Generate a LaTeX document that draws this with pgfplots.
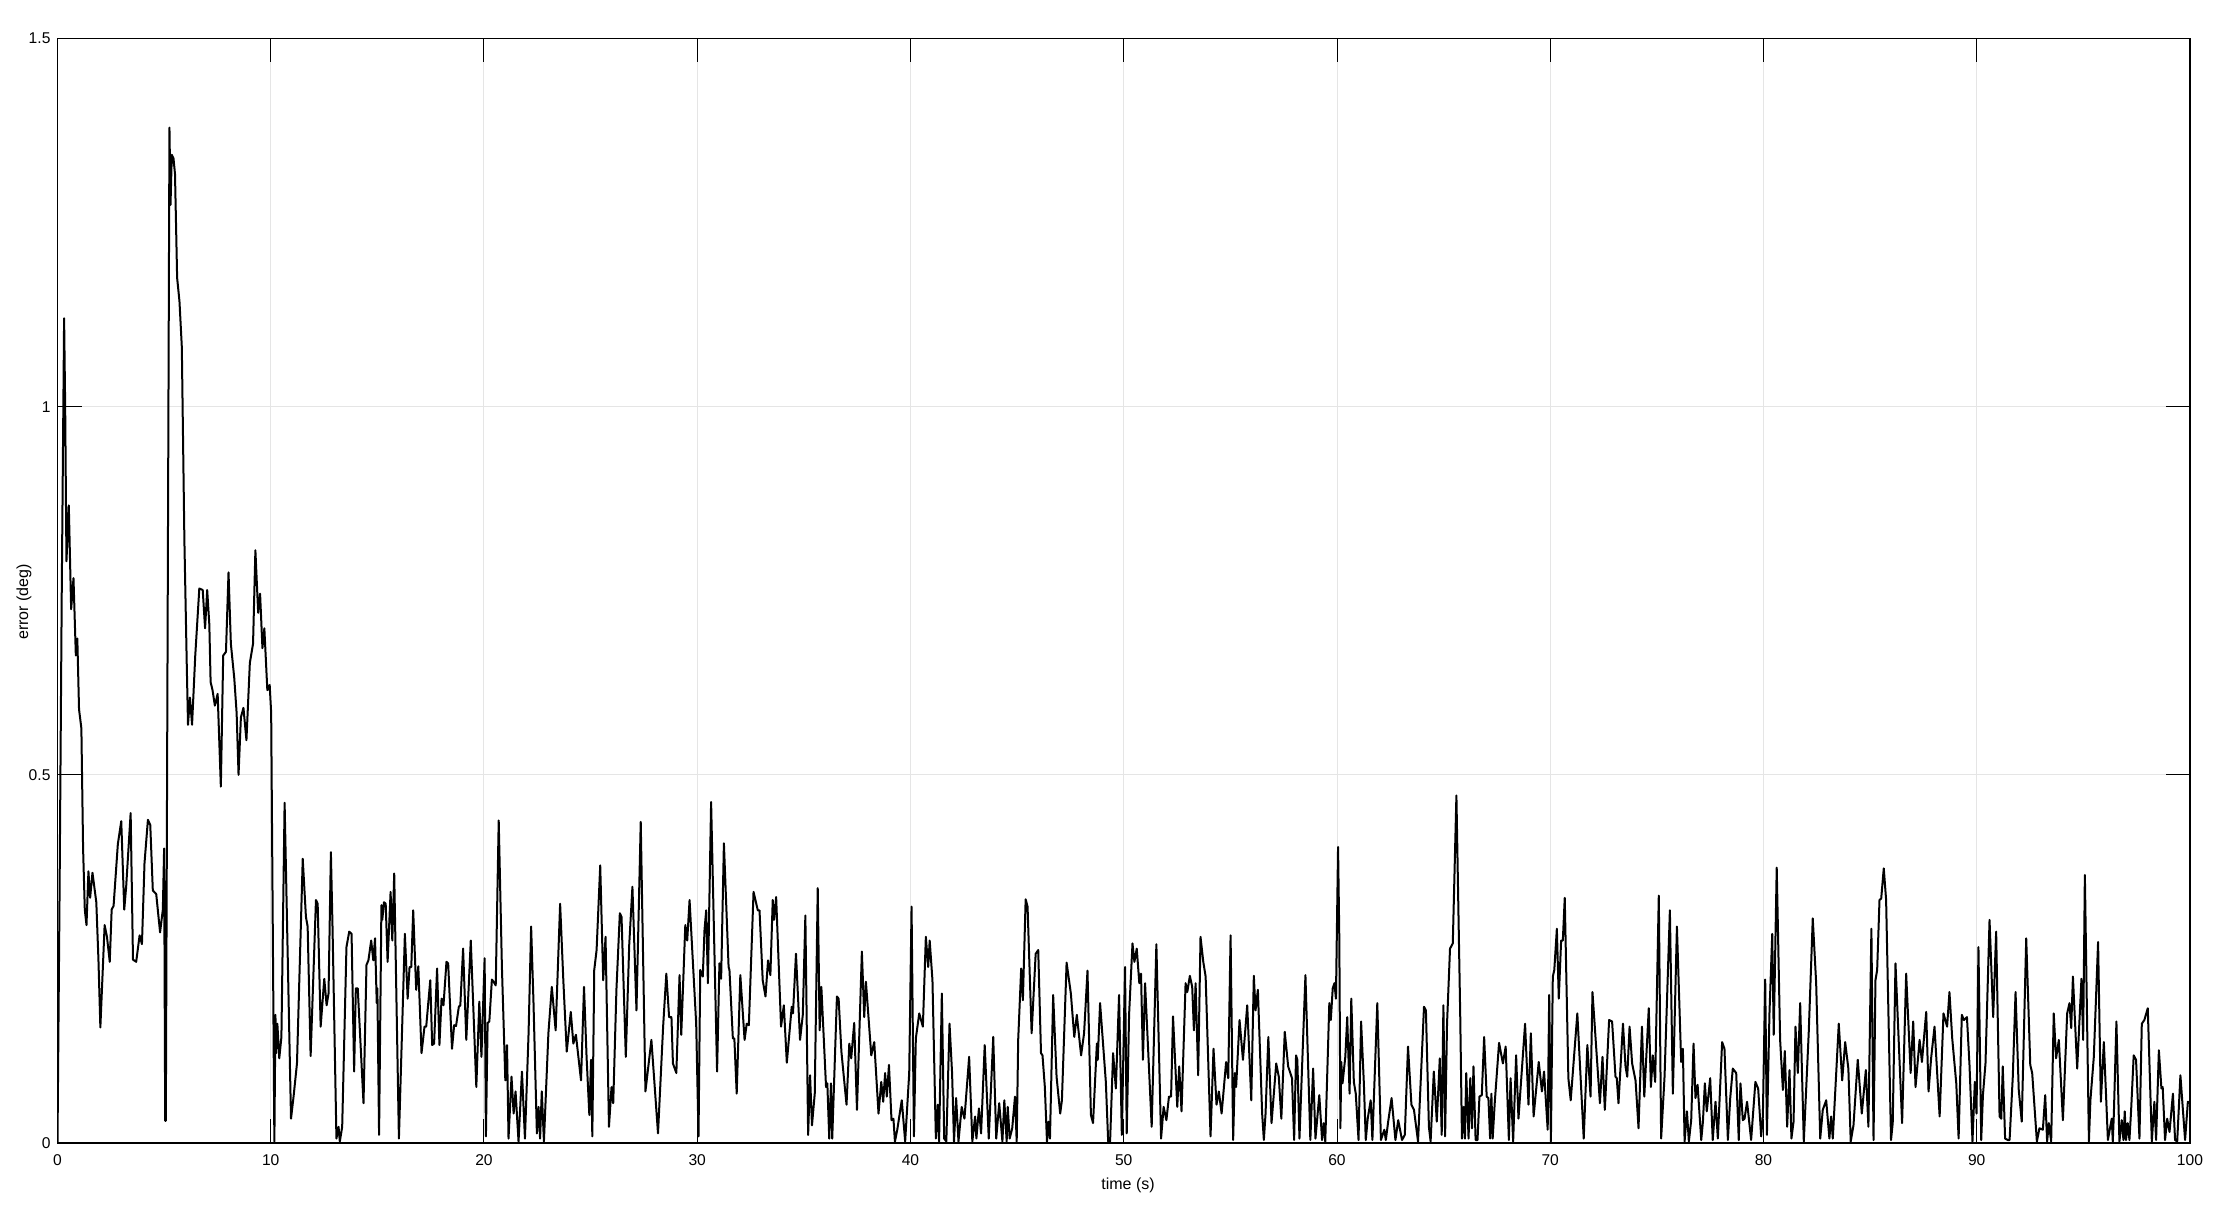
\documentclass[border=0pt]{standalone}
\usepackage{fontspec}
\setmainfont{Liberation Sans}
\usepackage{pgfplots}
\pgfplotsset{compat=1.18}

\begin{document}
\begin{tikzpicture}
\useasboundingbox (-28.75pt,-32.5pt) rectangle (1090.25pt,571.5pt);
\begin{axis}[
  scale only axis,
  width=1066.25pt, height=552.25pt,
  xmin=0, xmax=100, ymin=0, ymax=1.5,
  xtick={0,10,...,100},
  ytick={0,0.5,1,1.5},
  grid=major,
  major grid style={color=gray!20, line width=0.5pt},
  axis line style={line width=0.7pt},
  tick style={black, line width=0.5pt},
  major tick length=12pt,
  /pgf/number format/assume math mode=true,
  ticklabel style={font=\fontsize{7.8}{9}\selectfont},
  xticklabel style={yshift=-2.5pt},
  xlabel={time (s)},
  ylabel={error (deg)},
  every axis x label/.style={at={(axis description cs:0.502,0)}, anchor=center, yshift=-21pt, font=\fontsize{8}{10}\selectfont},
  every axis y label/.style={at={(axis description cs:-0.0157,0.49)}, anchor=center, rotate=90, font=\fontsize{8}{10}\selectfont},
]
\addplot[black, line width=1pt, line join=round] coordinates {
(0,0)(0.1,0.35)(0.2,0.75)(0.31,1.12)(0.36,1.0)(0.42,0.79)(0.53,0.866)(0.64,0.725)(0.75,0.767)(0.86,0.662)(0.93,0.685)(1.01,0.589)(1.12,0.563)(1.2,0.40)(1.28,0.317)(1.36,0.296)(1.45,0.369)(1.53,0.333)(1.64,0.367)(1.82,0.327)(1.92,0.249)(2.01,0.157)(2.21,0.296)(2.32,0.280)(2.45,0.246)(2.54,0.317)(2.63,0.322)(2.83,0.406)(2.99,0.437)(3.13,0.317)(3.22,0.348)(3.43,0.448)(3.54,0.249)(3.69,0.246)(3.85,0.282)(3.96,0.27)(4.08,0.38)(4.24,0.439)(4.35,0.432)(4.47,0.343)(4.63,0.338)(4.81,0.286)(4.94,0.317)(5.0,0.40)(5.05,0.03)(5.08,0.03)(5.25,1.379)(5.3,1.274)(5.36,1.342)(5.44,1.337)(5.51,1.316)(5.61,1.175)(5.72,1.143)(5.83,1.081)(5.95,0.819)(6.06,0.652)(6.12,0.568)(6.21,0.605)(6.31,0.568)(6.46,0.662)(6.65,0.753)(6.81,0.751)(6.92,0.699)(7.02,0.751)(7.12,0.704)(7.18,0.626)(7.27,0.615)(7.38,0.594)(7.51,0.610)(7.66,0.484)(7.77,0.662)(7.9,0.667)(8.02,0.775)(8.13,0.678)(8.29,0.631)(8.4,0.584)(8.49,0.5)(8.6,0.578)(8.72,0.591)(8.86,0.547)(9.02,0.652)(9.17,0.678)(9.28,0.805)(9.41,0.72)(9.5,0.746)(9.61,0.672)(9.7,0.699)(9.84,0.615)(9.95,0.622)(10.02,0.584)
(10.17,0.002)(10.22,0.174)(10.25,0.122)(10.31,0.162)(10.4,0.115)(10.5,0.144)(10.65,0.462)(10.79,0.262)(10.95,0.033)(11.07,0.063)(11.23,0.108)(11.5,0.386)(11.65,0.307)(11.73,0.294)(11.87,0.118)(12.12,0.33)(12.2,0.325)(12.34,0.158)(12.51,0.223)(12.62,0.187)(12.71,0.203)(12.82,0.395)(12.9,0.289)(13.08,0.006)(13.18,0.022)(13.24,0.002)(13.35,0.022)(13.55,0.266)(13.68,0.287)(13.79,0.284)(13.91,0.097)(13.99,0.21)(14.08,0.21)(14.35,0.054)(14.49,0.242)(14.58,0.248)(14.71,0.275)(14.81,0.248)(14.89,0.278)(14.97,0.19)(15.0,0.21)(15.08,0.011)(15.19,0.323)(15.23,0.303)(15.31,0.327)(15.39,0.325)(15.48,0.246)(15.62,0.341)(15.7,0.275)(15.79,0.366)(16.01,0.006)(16.29,0.284)(16.42,0.196)(16.51,0.239)(16.59,0.239)(16.68,0.316)(16.82,0.208)(16.92,0.24)(17.07,0.122)(17.21,0.158)(17.29,0.158)(17.48,0.221)(17.57,0.133)(17.66,0.135)(17.8,0.237)(17.91,0.133)(18.01,0.196)(18.1,0.187)(18.24,0.246)(18.32,0.244)(18.5,0.128)(18.6,0.16)(18.69,0.159)(18.82,0.185)(18.89,0.187)(19.02,0.264)(19.17,0.14)(19.38,0.275)(19.64,0.076)(19.78,0.192)(19.88,0.117)(20.03,0.251)(20.09,0.009)(20.17,0.163)(20.25,0.165)(20.37,0.222)(20.45,0.219)(20.55,0.214)(20.69,0.438)(20.84,0.239)(21.0,0.085)(21.08,0.133)(21.15,0.006)(21.29,0.09)(21.39,0.04)(21.48,0.07)(21.62,0.002)(21.78,0.097)(21.92,0.006)(22.09,0.149)(22.21,0.294)(22.32,0.192)(22.48,0.013)(22.56,0.049)(22.63,0.006)(22.71,0.07)(22.81,0.002)(23.02,0.149)(23.18,0.212)(23.36,0.153)(23.57,0.325)(23.72,0.221)(23.88,0.124)(24.07,0.178)(24.19,0.135)(24.31,0.147)(24.55,0.085)(24.69,0.212)(24.81,0.117)(24.94,0.038)(25.02,0.113)(25.08,0.009)(25.17,0.235)(25.28,0.262)(25.45,0.377)(25.59,0.221)(25.7,0.28)(25.86,0.022)(25.98,0.076)(26.06,0.054)(26.21,0.208)(26.37,0.312)(26.45,0.307)(26.65,0.117)(26.81,0.269)(26.96,0.348)(27.15,0.18)(27.35,0.436)(27.57,0.07)(27.85,0.14)(28.16,0.013)(28.4,0.158)(28.55,0.23)(28.68,0.171)(28.79,0.171)(28.86,0.108)(29.02,0.095)(29.17,0.228)(29.25,0.147)(29.44,0.296)(29.53,0.275)(29.64,0.33)(29.95,0.162)(30.06,0.009)(30.14,0.235)(30.26,0.226)(30.34,0.289)(30.42,0.316)(30.5,0.217)(30.65,0.463)(30.93,0.097)(31.04,0.244)(31.12,0.223)(31.25,0.407)(31.47,0.239)(31.51,0.235)(31.67,0.142)(31.74,0.142)(31.85,0.067)(32.02,0.228)
(32.22,0.14)(32.32,0.162)(32.42,0.16)(32.64,0.341)(32.84,0.316)(32.92,0.316)(33.07,0.221)(33.2,0.199)(33.32,0.248)(33.43,0.228)(33.54,0.33)(33.6,0.303)(33.7,0.334)(33.93,0.158)(34.06,0.187)(34.2,0.109)(34.43,0.185)(34.49,0.176)(34.63,0.257)(34.82,0.14)(34.95,0.174)(35.07,0.309)(35.2,0.011)(35.29,0.092)(35.38,0.024)(35.51,0.067)(35.65,0.346)(35.74,0.153)(35.82,0.212)(36.04,0.076)(36.1,0.081)(36.19,0.006)(36.27,0.081)(36.33,0.006)(36.55,0.199)(36.63,0.196)(36.76,0.124)(37.0,0.052)(37.13,0.135)(37.22,0.115)(37.36,0.163)(37.49,0.045)(37.72,0.26)(37.83,0.171)(37.91,0.219)(38.16,0.119)(38.3,0.137)(38.5,0.04)(38.63,0.083)(38.72,0.056)(38.81,0.095)(38.89,0.063)(38.99,0.106)(39.11,0.031)(39.2,0.033)(39.27,0.002)(39.38,0.018)(39.59,0.058)(39.75,0.002)(39.94,0.095)(40.05,0.321)(40.16,0.009)(40.25,0.142)(40.41,0.176)(40.58,0.158)(40.72,0.28)(40.83,0.239)(40.9,0.275)(41.03,0.221)(41.19,0.006)(41.28,0.052)(41.34,0.002)(41.47,0.203)(41.58,0.006)(41.68,0.002)(41.83,0.162)(41.95,0.095)(42.04,0.002)(42.14,0.061)(42.25,0.002)(42.4,0.049)(42.53,0.033)(42.75,0.117)(42.9,0.002)(43.03,0.036)(43.09,0.006)(43.21,0.047)(43.31,0.013)(43.48,0.133)(43.67,0.006)(43.88,0.144)(44.02,0.006)(44.16,0.054)(44.31,0.002)(44.4,0.058)(44.51,0.002)(44.56,0.049)(44.65,0.006)(44.77,0.02)(44.9,0.063)(44.98,0.002)(45.05,0.14)(45.19,0.237)(45.27,0.194)(45.4,0.331)(45.49,0.321)(45.68,0.149)(45.87,0.257)(45.99,0.262)
(46.12,0.122)(46.19,0.119)(46.3,0.076)(46.4,0.002)(46.47,0.029)(46.54,0.006)(46.69,0.201)(46.85,0.09)(47.02,0.04)(47.1,0.058)(47.32,0.245)(47.52,0.203)(47.68,0.144)(47.8,0.174)(48.0,0.119)(48.14,0.149)(48.3,0.234)(48.46,0.038)(48.56,0.027)(48.74,0.135)(48.78,0.113)(48.89,0.19)(49.16,0.083)(49.27,0.002)(49.36,0.002)(49.5,0.122)(49.63,0.074)(49.78,0.201)(49.91,0.011)(50.06,0.239)(50.14,0.013)(50.25,0.174)(50.41,0.271)(50.5,0.246)(50.61,0.264)(50.73,0.217)(50.81,0.23)(50.9,0.113)(51.0,0.217)(51.31,0.022)(51.53,0.27)(51.75,0.006)(51.87,0.049)(52.0,0.031)(52.12,0.063)(52.22,0.063)(52.31,0.172)(52.51,0.049)(52.6,0.104)(52.71,0.043)(52.9,0.217)(52.98,0.205)(53.1,0.227)(53.21,0.212)(53.29,0.153)(53.37,0.217)(53.49,0.092)(53.6,0.28)(53.73,0.246)(53.84,0.226)(54.07,0.009)(54.21,0.128)(54.35,0.052)(54.46,0.07)(54.59,0.04)(54.8,0.11)(54.9,0.088)(55.01,0.282)(55.13,0.004)(55.21,0.095)(55.27,0.076)(55.43,0.167)(55.59,0.113)(55.79,0.187)(55.98,0.058)(56.1,0.227)(56.18,0.18)(56.29,0.208)(56.49,0.04)(56.57,0.004)(56.65,0.04)(56.78,0.144)(56.93,0.027)(57.15,0.108)(57.27,0.09)(57.39,0.033)(57.55,0.151)(57.71,0.104)(57.89,0.088)(57.99,0.004)(58.08,0.119)(58.14,0.113)(58.24,0.006)(58.52,0.228)(58.75,0.004)(58.88,0.101)(58.99,0.006)(59.17,0.065)(59.3,0.004)(59.38,0.027)(59.45,0.002)
(59.64,0.19)(59.71,0.167)(59.8,0.21)(59.88,0.217)(59.95,0.196)(60.05,0.402)(60.11,0.275)(60.16,0.02)(60.2,0.11)(60.26,0.081)(60.39,0.117)(60.48,0.171)(60.59,0.067)(60.67,0.196)(60.79,0.083)(60.88,0.067)(61.01,0.004)(61.13,0.165)(61.26,0.081)(61.35,0.004)(61.44,0.033)(61.58,0.058)(61.66,0.004)(61.89,0.19)(62.06,0.004)(62.22,0.018)(62.29,0.004)(62.4,0.029)(62.56,0.061)(62.74,0.004)(62.87,0.031)(63.05,0.004)(63.18,0.011)(63.33,0.131)(63.49,0.052)(63.61,0.045)(63.8,0.002)(64.08,0.185)(64.17,0.18)(64.31,0.022)(64.39,0.002)(64.54,0.097)(64.68,0.029)(64.82,0.115)(64.91,0.011)(64.99,0.187)(65.07,0.009)(65.16,0.162)(65.3,0.264)(65.43,0.271)(65.6,0.472)(65.78,0.171)(65.86,0.006)(65.94,0.049)(66.0,0.006)(66.06,0.095)(66.17,0.006)(66.25,0.088)(66.33,0.02)(66.4,0.104)(66.5,0.004)(66.59,0.004)(66.68,0.063)(66.79,0.065)(66.9,0.144)(67.02,0.063)(67.1,0.061)(67.18,0.006)(67.24,0.067)(67.3,0.006)(67.4,0.056)(67.6,0.136)(67.78,0.108)(67.91,0.131)(68.06,0.004)(68.14,0.088)(68.26,0.002)(68.4,0.119)(68.51,0.033)(68.82,0.162)(68.98,0.052)(69.09,0.149)(69.22,0.036)(69.46,0.11)(69.61,0.07)(69.71,0.097)(69.88,0.018)(69.95,0.201)(70.03,0.002)(70.12,0.226)(70.19,0.235)(70.31,0.291)(70.4,0.196)(70.51,0.275)(70.59,0.275)(70.68,0.333)(70.85,0.088)(70.96,0.058)(71.27,0.176)(71.57,0.006)(71.74,0.133)(71.89,0.063)(71.98,0.205)(72.33,0.054)(72.45,0.117)(72.56,0.045)(72.76,0.167)
(72.9,0.165)(73.06,0.09)(73.12,0.088)(73.2,0.054)(73.41,0.162)(73.53,0.104)(73.61,0.09)(73.72,0.158)(73.84,0.108)(74.0,0.085)(74.14,0.02)(74.3,0.158)(74.41,0.063)(74.62,0.183)(74.72,0.076)(74.81,0.119)(74.92,0.083)(75.09,0.336)(75.2,0.006)(75.36,0.09)(75.61,0.316)(75.75,0.067)(75.94,0.294)(76.14,0.11)(76.22,0.128)(76.3,0.002)(76.41,0.043)(76.5,0.002)(76.61,0.031)(76.72,0.135)(76.81,0.061)(76.91,0.079)(77.08,0.004)(77.16,0.029)(77.25,0.081)(77.34,0.043)(77.5,0.088)(77.62,0.004)(77.75,0.056)(77.86,0.006)(78.06,0.137)(78.17,0.128)(78.33,0.004)(78.44,0.061)(78.56,0.101)(78.72,0.095)(78.84,0.004)(78.92,0.081)(79.03,0.031)(79.11,0.033)(79.23,0.056)(79.42,0.004)(79.62,0.083)(79.75,0.074)(79.84,0.033)(79.89,0.009)(79.97,0.036)(80.08,0.222)(80.16,0.011)(80.28,0.176)(80.41,0.284)(80.48,0.147)(80.62,0.374)(80.78,0.14)(80.91,0.072)(81.0,0.125)(81.11,0.022)(81.22,0.099)(81.31,0.006)(81.41,0.029)(81.5,0.158)(81.61,0.095)(81.72,0.19)(81.89,0.002)(82.12,0.149)(82.31,0.305)(82.47,0.217)(82.66,0.006)(82.78,0.045)(82.94,0.058)(83.09,0.006)(83.17,0.036)(83.25,0.006)(83.53,0.162)(83.69,0.085)(83.83,0.137)(83.98,0.101)(84.09,0.002)(84.22,0.024)(84.42,0.113)(84.61,0.04)(84.8,0.099)(84.92,0.022)(85.06,0.291)(85.16,0.004)(85.25,0.221)(85.33,0.235)(85.44,0.33)(85.52,0.332)(85.64,0.373)(85.75,0.33)(85.98,0.004)(86.06,0.027)(86.19,0.244)(86.5,0.027)(86.69,0.23)
(86.9,0.095)(87.02,0.165)(87.13,0.076)(87.32,0.14)(87.43,0.11)(87.63,0.178)(87.74,0.07)(87.86,0.115)(88.02,0.158)(88.26,0.036)(88.44,0.176)(88.61,0.158)(88.72,0.205)(88.85,0.142)(89.04,0.081)(89.15,0.006)(89.3,0.174)(89.4,0.167)(89.54,0.171)(89.66,0.106)(89.8,0.002)(89.91,0.083)(89.99,0.04)(90.08,0.266)(90.21,0.004)(90.29,0.065)(90.41,0.108)(90.6,0.303)(90.77,0.171)(90.91,0.287)(91.07,0.036)(91.15,0.033)(91.22,0.104)(91.33,0.006)(91.46,0.004)(91.54,0.004)(91.69,0.09)(91.82,0.205)(91.97,0.072)(92.11,0.029)(92.32,0.278)(92.51,0.106)(92.6,0.095)(92.82,0.002)(92.94,0.02)(93.1,0.018)(93.21,0.065)(93.3,0.002)(93.38,0.027)(93.49,0.002)(93.61,0.176)(93.72,0.115)(93.85,0.14)(94.04,0.031)(94.24,0.176)(94.35,0.19)(94.43,0.156)(94.51,0.226)(94.71,0.101)(94.91,0.223)(94.99,0.14)(95.07,0.364)(95.26,0.002)(95.33,0.058)(95.49,0.117)(95.69,0.273)(95.82,0.056)(95.96,0.137)(96.15,0.004)(96.26,0.022)(96.33,0.033)(96.38,0.002)(96.43,0.04)(96.55,0.165)(96.69,0.002)(96.8,0.031)(96.88,0.004)(96.94,0.043)(97.0,0.004)(97.08,0.027)(97.16,0.004)(97.24,0.045)(97.36,0.119)(97.47,0.113)(97.63,0.006)(97.74,0.162)(97.86,0.167)(98.02,0.183)(98.21,0.002)(98.33,0.056)(98.41,0.004)(98.54,0.126)(98.66,0.074)(98.72,0.076)(98.83,0.004)(98.93,0.033)(99.04,0.015)(99.2,0.067)(99.3,0.004)(99.4,0.002)(99.55,0.092)(99.77,0.004)(99.9,0.056)(100,0.054)
};
\end{axis}
\end{tikzpicture}
\end{document}
